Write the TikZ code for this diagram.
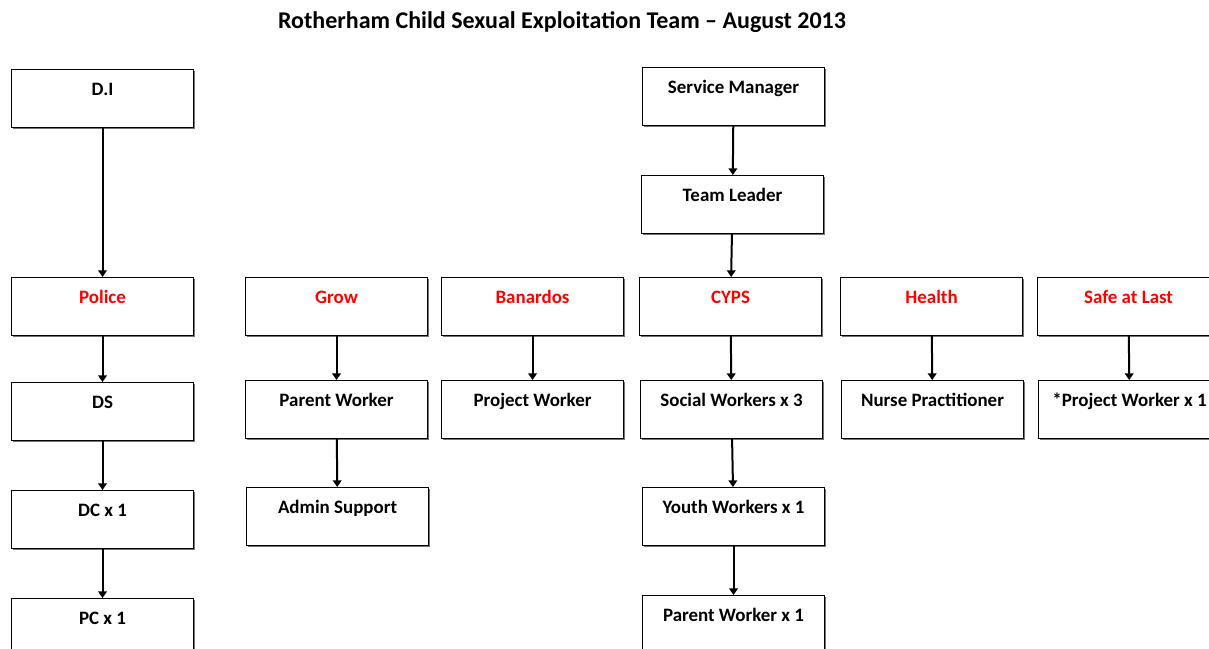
\documentclass[tikz,border=0pt]{standalone}
\usepackage{fontspec}
\setmainfont{Carlito}
\usetikzlibrary{arrows.meta,shadows}
\tikzset{
  unit/.style={draw, line width=0.8pt, fill=white, anchor=north west,
    minimum width=136.5pt, inner xsep=0pt, inner ysep=0pt,
    text height=19.5pt, text depth=24pt,
    font=\bfseries\fontsize{14.2}{17}\selectfont,
    drop shadow={shadow xshift=1pt, shadow yshift=-1pt, fill=black!55, opacity=1}},
  team/.style={unit, text=red},
  link/.style={line width=1.5pt, -{Triangle[width=6.5pt,length=5pt]}}
}
\begin{document}
\begin{tikzpicture}[x=0.75pt, y=-0.75pt]
  \useasboundingbox (0,0) rectangle (1209,649);
  \clip (0,0) rectangle (1209,649);
  \fill[white] (0,0) rectangle (1209,649);
  \node (title) at (562,22) {\bfseries\fontsize{18}{21}\selectfont Rotherham Child Sexual Exploitation Team -- August 2013};

  % police
  \node[unit] (di) at (11,69) {D.I};
  \node[team] (police) at (11,277) {Police};
  \node[unit] (ds) at (11,382) {DS};
  \node[unit] (dcone) at (11,490) {DC x 1};
  \node[unit] (pcone) at (11,598) {PC x 1};

  % grow
  \node[team] (grow) at (245,277) {Grow};
  \node[unit] (parentw) at (245,380) {Parent Worker};
  \node[unit] (admin) at (246,487) {Admin Support};

  % banardos
  \node[team] (banardos) at (441,277) {Banardos};
  \node[unit] (projectw) at (441,380) {Project Worker};

  % cyps
  \node[unit] (servmgr) at (642,67) {Service Manager};
  \node[unit] (teamldr) at (641,175) {Team Leader};
  \node[team] (cyps) at (639,277) {CYPS};
  \node[unit] (socialw) at (640,380) {Social Workers x 3};
  \node[unit] (youthw) at (642,487) {Youth Workers x 1};
  \node[unit] (parentwone) at (642,595) {Parent Worker x 1};

  % health
  \node[team] (health) at (840,277) {Health};
  \node[unit] (nurse) at (841,380) {Nurse Practitioner};

  % safe at last
  \node[team] (safe) at (1037,277) {Safe at Last};
  \node[unit] (projectwone) at (1038,380) {*Project Worker x 1};

  \begin{scope}[link]
    \draw (di) -- (police);
    \draw (police) -- (ds);
    \draw (ds) -- (dcone);
    \draw (dcone) -- (pcone);
    \draw (grow) -- (parentw);
    \draw (parentw) -- (admin);
    \draw (banardos) -- (projectw);
    \draw (servmgr) -- (teamldr);
    \draw (teamldr) -- (cyps);
    \draw (cyps) -- (socialw);
    \draw (socialw) -- (youthw);
    \draw (youthw) -- (parentwone);
    \draw (health) -- (nurse);
    \draw (safe) -- (projectwone);
  \end{scope}
\end{tikzpicture}
\end{document}
